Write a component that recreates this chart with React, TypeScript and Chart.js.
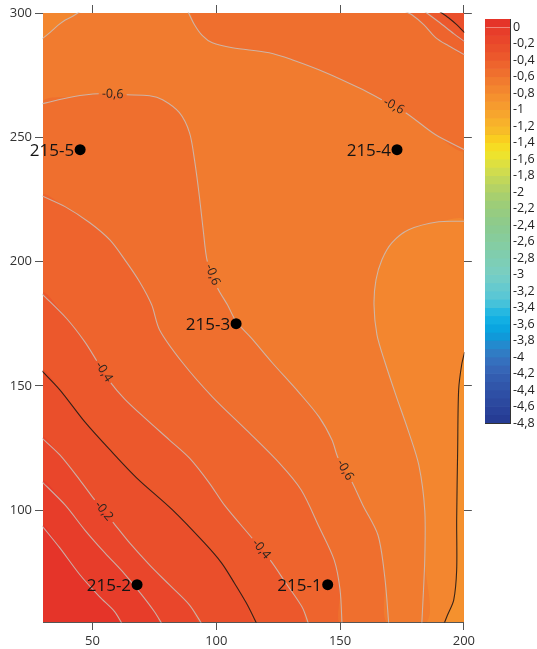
import React, { useEffect, useRef } from 'react';
import { Chart, registerables } from 'chart.js';

Chart.register(...registerables);
Chart.defaults.font.family = '"Open Sans", sans-serif';

type P = [number, number];

// ---------- axes ----------
const xMin = 30, xMax = 200, yMin = 55, yMax = 300;
const xTicks = [50, 100, 150, 200];
const yTicks = [100, 150, 200, 250, 300];

// ---------- wells ----------
const wellNames = ['215-1', '215-2', '215-3', '215-4', '215-5'];
const wellX = [145, 68, 108, 173, 45];
const wellY = [70, 70, 175, 245, 245];

// ---------- colour scale ----------
const scaleTop = 0.1;
const scaleBottom = -4.8;
const scaleStep = 0.1;
const scaleMajor = [-0.3, -0.8, -1.3, -1.8, -2.3, -2.8, -3.3, -3.8, -4.3];
const paletteStops: [number, number, number, number][] = [
  [0.05, 229, 52, 41],
  [-0.35, 236, 88, 44],
  [-0.65, 241, 123, 47],
  [-0.85, 245, 145, 46],
  [-1.05, 247, 165, 45],
  [-1.25, 248, 188, 40],
  [-1.35, 250, 205, 32],
  [-1.5, 244, 228, 36],
  [-1.7, 215, 222, 72],
  [-1.9, 186, 212, 96],
  [-2.1, 160, 205, 116],
  [-2.4, 140, 203, 142],
  [-2.7, 130, 205, 168],
  [-3.0, 120, 206, 196],
  [-3.3, 85, 198, 215],
  [-3.5, 22, 180, 228],
  [-3.7, 6, 160, 222],
  [-3.9, 45, 130, 200],
  [-4.1, 55, 106, 186],
  [-4.3, 50, 89, 173],
  [-4.5, 45, 76, 162],
  [-4.75, 38, 60, 148],
];

// ---------- contour lines (x, y) ----------
const c070TopLeft: P[] = [[29, 289.3], [30, 289.9], [33, 292.3], [36, 295], [39, 297.2], [42, 298.7], [45, 300.6]];
const c070Right: P[] = [[200.3, 216.2], [189.8, 216.0], [177.7, 212.8], [170.9, 207.5], [166.9, 200.7], [164.5, 192.6], [163.7, 182.6], [164.9, 170.5], [168.1, 159.6], [172.5, 146.4], [177.7, 131.5], [181.8, 118.2], [184.2, 100.1], [184.2, 80.0], [183.0, 53.8]];
const c080Right: P[] = [[200.3, 163.6], [199.1, 158.4], [197.9, 148.4], [197.5, 124.2], [197.1, 96.0], [197.1, 75.9], [195.9, 63.8], [193.4, 57.8], [191.8, 53.8]];
const c060Main: P[] = [[29.6, 263.5], [42.1, 266.3], [52.5, 267.5], [63.8, 267.1], [73.1, 266.7], [78.3, 265.1], [85.1, 259.9], [89.2, 251.8], [91.2, 240.9], [93.2, 226.0], [94.8, 211.9], [96.4, 200.0], [100.5, 189.4], [104.5, 182.6], [108.1, 175.8], [114.1, 169.3], [122.6, 159.3], [133.5, 147.2], [141.5, 137.5], [146.7, 128.3], [149.2, 121.0], [154.8, 111.3], [159.2, 102.0], [165.3, 90.0], [168.1, 72.7], [169.7, 53.8]];
const c060Top: P[] = [[88.4, 300.9], [91.2, 295.3], [94.4, 290.9], [98.4, 288.0], [106.5, 286.0], [121.4, 284.0], [130.6, 281.2], [144.3, 276.0], [157.6, 269.9], [166.9, 265.1], [176.5, 259.9], [188.6, 251.0], [200.3, 245.0]];
const c050Low: P[] = [[29.6, 226.4], [38.9, 222.1], [48.9, 215.6], [57.0, 208.7], [63.0, 200.8], [69.0, 191.9], [73.9, 182.6], [77.1, 172.5], [86.4, 159.3], [98.4, 145.6], [112.1, 132.3], [125.4, 119.0], [134.3, 108.1], [141.5, 93.3], [147.6, 80.0], [150.0, 67.9], [150.8, 53.8]];
const c050Top: P[] = [[175.7, 300.9], [179.0, 299.3], [183.8, 295.3], [188.6, 290.1], [193.8, 286.8], [200.3, 283.2]];
const c040Low: P[] = [[29.6, 187.0], [39.7, 176.9], [46.9, 167.7], [51.7, 160.1], [57.4, 151.2], [63.0, 144.7], [71.1, 137.1], [81.1, 128.2], [89.2, 120.9], [97.2, 110.9], [103.3, 102.0], [114.5, 88.7], [121.8, 79.9], [128.2, 70.5], [134.7, 60.9], [137.5, 53.6]];
const c040Top: P[] = [[183.8, 300.9], [189.8, 296.5], [195.9, 291.7], [200.3, 288.5]];
const c030Low: P[] = [[29.6, 156.0], [36.8, 148.4], [46.9, 135.5], [57.0, 124.3], [67.8, 113.0], [82.3, 100.1], [95.2, 86.8], [102.1, 78.8], [107.3, 70.7], [112.1, 62.7], [116.6, 53.8]];
const c030Top: P[] = [[189.8, 300.9], [193.8, 298.1], [197.1, 295.3], [200.3, 292.1]];
const c020Low: P[] = [[29.6, 129.0], [36.8, 122.2], [44.9, 112.1], [50.9, 104.1], [58.2, 95.2], [65.0, 86.8], [73.1, 77.9], [81.1, 69.9], [89.2, 61.8], [94.4, 53.8]];
const c010Low: P[] = [[29.6, 111.4], [38.9, 102.1], [46.9, 92.0], [55.0, 82.8], [63.0, 74.3], [69.9, 65.9], [75.1, 59.0], [78.3, 53.8]];
const c000Low: P[] = [[29.6, 93.7], [36.8, 84.8], [44.9, 74.0], [52.9, 65.1], [59.0, 59.1], [62.2, 53.8]];

type Kind = 'LL' | 'TR' | 'RB' | 'TL';
const contours: { level: number; pts: P[]; kind: Kind }[] = [
  { level: -0.7, pts: c070TopLeft, kind: 'TL' },
  { level: -0.7, pts: c070Right, kind: 'RB' },
  { level: -0.8, pts: c080Right, kind: 'RB' },
  { level: -0.6, pts: c060Main, kind: 'LL' },
  { level: -0.6, pts: c060Top, kind: 'TR' },
  { level: -0.5, pts: c050Low, kind: 'LL' },
  { level: -0.5, pts: c050Top, kind: 'TR' },
  { level: -0.4, pts: c040Low, kind: 'LL' },
  { level: -0.4, pts: c040Top, kind: 'TR' },
  { level: -0.3, pts: c030Low, kind: 'LL' },
  { level: -0.3, pts: c030Top, kind: 'TR' },
  { level: -0.2, pts: c020Low, kind: 'LL' },
  { level: -0.1, pts: c010Low, kind: 'LL' },
  { level: 0.0, pts: c000Low, kind: 'LL' },
];

const contourLabels = [
  { text: '-0,6', x: 58.2, y: 267.3 },
  { text: '-0,6', x: 171.7, y: 262.5 },
  { text: '-0,6', x: 98.4, y: 194.7 },
  { text: '-0,6', x: 152.0, y: 116.1 },
  { text: '-0,4', x: 54.6, y: 155.6 },
  { text: '-0,4', x: 118.2, y: 84.3 },
  { text: '-0,2', x: 54.6, y: 99.6 },
];

// ---------- helpers ----------
function colorAt(v: number): string {
  const s = paletteStops;
  if (v >= s[0][0]) return `rgb(${s[0][1]},${s[0][2]},${s[0][3]})`;
  for (let i = 0; i < s.length - 1; i++) {
    const a = s[i], b = s[i + 1];
    if (v <= a[0] && v >= b[0]) {
      const t = (a[0] - v) / (a[0] - b[0]);
      const r = Math.round(a[1] + (b[1] - a[1]) * t);
      const g = Math.round(a[2] + (b[2] - a[2]) * t);
      const bl = Math.round(a[3] + (b[3] - a[3]) * t);
      return `rgb(${r},${g},${bl})`;
    }
  }
  const l = s[s.length - 1];
  return `rgb(${l[1]},${l[2]},${l[3]})`;
}
const near = (a: number, b: number) => Math.abs(a - b) < 1e-6;
const isMajor = (v: number) => scaleMajor.some((m) => near(m, v));

const FAR_L = 25, FAR_R = 205, FAR_B = 50, FAR_T = 305;
function polygonFor(kind: Kind, pts: P[]): P[] {
  if (kind === 'LL') return [[FAR_L, FAR_B], ...pts, [FAR_R, FAR_B]];
  if (kind === 'TR') return [[FAR_L, FAR_T], ...pts, [FAR_R, FAR_T]];
  if (kind === 'RB') return [[FAR_L, FAR_B], ...[...pts].reverse(), [FAR_R, FAR_B]];
  return [[FAR_L, FAR_T + 5], ...pts, [FAR_R, FAR_T]];
}
const toXY = (p: P[]) => p.map(([x, y]) => ({ x, y }));

function hideNearLabel(ctx: any) {
  const ch = ctx.chart;
  if (!ch || !ch.scales || !ch.scales.x) return undefined;
  const xs = ch.scales.x, ys = ch.scales.y;
  const mx = (ctx.p0.x + ctx.p1.x) / 2, my = (ctx.p0.y + ctx.p1.y) / 2;
  for (const l of contourLabels) {
    const lx = xs.getPixelForValue(l.x), ly = ys.getPixelForValue(l.y);
    if (Math.hypot(mx - lx, my - ly) < 9) return 'rgba(0,0,0,0)';
  }
  return undefined;
}

const labelPlugin = {
  id: 'mapLabels',
  afterDatasetsDraw(chart: any) {
    const { ctx } = chart;
    const xs = chart.scales.x, ys = chart.scales.y;
    const area = chart.chartArea;
    ctx.save();
    ctx.beginPath();
    ctx.rect(area.left, area.top, area.right - area.left, area.bottom - area.top);
    ctx.clip();
    // contour labels
    ctx.font = '12.5px "Open Sans", sans-serif';
    ctx.fillStyle = '#2b2420';
    ctx.textAlign = 'center';
    ctx.textBaseline = 'middle';
    for (const l of contourLabels) {
      const lx = xs.getPixelForValue(l.x), ly = ys.getPixelForValue(l.y);
      let best: any = null, bd = Infinity;
      chart.data.datasets.forEach((ds: any, i: number) => {
        if (!ds.isContour) return;
        const pts = chart.getDatasetMeta(i).data;
        for (let k = 0; k < pts.length - 1; k++) {
          const mx = (pts[k].x + pts[k + 1].x) / 2, my = (pts[k].y + pts[k + 1].y) / 2;
          const d = Math.hypot(mx - lx, my - ly);
          if (d < bd) { bd = d; best = [pts[k], pts[k + 1]]; }
        }
      });
      if (!best) continue;
      let ang = Math.atan2(best[1].y - best[0].y, best[1].x - best[0].x);
      if (ang > Math.PI / 2) ang -= Math.PI;
      if (ang < -Math.PI / 2) ang += Math.PI;
      ctx.save();
      ctx.translate((best[0].x + best[1].x) / 2, (best[0].y + best[1].y) / 2);
      ctx.rotate(ang);
      ctx.fillText(l.text, 0, 0);
      ctx.restore();
    }
    ctx.restore();
    // well labels (not clipped: they may overhang the axis)
    ctx.save();
    ctx.font = '17px "Open Sans", sans-serif';
    ctx.fillStyle = '#141414';
    ctx.textAlign = 'right';
    ctx.textBaseline = 'middle';
    chart.data.datasets.forEach((ds: any, i: number) => {
      if (!ds.isWells) return;
      chart.getDatasetMeta(i).data.forEach((el: any, k: number) => {
        ctx.fillText(wellNames[k], el.x - 6, el.y + 1);
      });
    });
    ctx.restore();
  },
};

function buildMainConfig(): any {
  const datasets: any[] = [];
  // base band
  datasets.push({
    type: 'line',
    data: toXY([[FAR_L, FAR_B], [FAR_L, FAR_T], [FAR_R, FAR_T], [FAR_R, FAR_B]]),
    fill: 'shape', backgroundColor: colorAt(-0.65), borderWidth: 0, borderColor: 'rgba(0,0,0,0)', pointRadius: 0, tension: 0,
  });
  const lowSide = contours.filter((c) => c.kind === 'RB' || c.kind === 'TL').sort((a, b) => b.level - a.level);
  const highSide = contours.filter((c) => c.kind === 'LL' || c.kind === 'TR').sort((a, b) => a.level - b.level);
  for (const c of lowSide) {
    datasets.push({
      type: 'line', data: toXY(polygonFor(c.kind, c.pts)), fill: 'shape',
      backgroundColor: colorAt(c.level - 0.05), borderWidth: 0, borderColor: 'rgba(0,0,0,0)', pointRadius: 0, tension: 0.3,
    });
  }
  for (const c of highSide) {
    datasets.push({
      type: 'line', data: toXY(polygonFor(c.kind, c.pts)), fill: 'shape',
      backgroundColor: colorAt(c.level + 0.05), borderWidth: 0, borderColor: 'rgba(0,0,0,0)', pointRadius: 0, tension: 0.3,
    });
  }
  for (const c of contours) {
    const major = isMajor(c.level);
    datasets.push({
      type: 'line', isContour: true, data: toXY(c.pts), fill: false,
      borderColor: major ? 'rgba(45,30,22,0.95)' : 'rgba(200,190,186,0.85)',
      borderWidth: 1.1, pointRadius: 0, tension: 0.3,
      segment: { borderColor: hideNearLabel },
    });
  }
  datasets.push({
    type: 'scatter', isWells: true,
    data: wellX.map((x, i) => ({ x, y: wellY[i] })),
    pointRadius: 5.5, pointBackgroundColor: '#000', pointBorderWidth: 0, showLine: false,
  });
  datasets.forEach((d, i) => { d.order = datasets.length - i; });

  const axisGrid = { drawOnChartArea: false, drawTicks: true, tickLength: 8, color: '#555', tickColor: '#555' };
  const axisBorder = { color: '#555', width: 1 };
  const tickFont = { size: 13 };
  const setX = (s: any) => { s.min = xMin; s.max = xMax; };
  const setY = (s: any) => { s.min = yMin; s.max = yMax; };
  return {
    type: 'line',
    data: { datasets },
    options: {
      responsive: false, animation: false, events: [],
      layout: { padding: 0 },
      plugins: { legend: { display: false }, tooltip: { enabled: false } },
      scales: {
        x: {
          type: 'linear', position: 'bottom', bounds: 'data', afterDataLimits: setX,
          afterBuildTicks: (s: any) => { s.ticks = xTicks.map((v) => ({ value: v })); },
          ticks: { color: '#333', font: tickFont, padding: 3 },
          grid: axisGrid, border: axisBorder,
          afterFit: (s: any) => { s.height = 27; },
        },
        x2: {
          type: 'linear', position: 'top', bounds: 'data', afterDataLimits: setX,
          afterBuildTicks: (s: any) => { s.ticks = xTicks.map((v) => ({ value: v })); },
          ticks: { callback: () => '' },
          grid: axisGrid, border: axisBorder,
          afterFit: (s: any) => { s.height = 13; },
        },
        y: {
          type: 'linear', position: 'left', bounds: 'data', afterDataLimits: setY,
          afterBuildTicks: (s: any) => { s.ticks = yTicks.map((v) => ({ value: v })); },
          ticks: { color: '#333', font: tickFont, padding: 3 },
          grid: axisGrid, border: axisBorder,
          afterFit: (s: any) => { s.width = 43; },
        },
        y2: {
          type: 'linear', position: 'right', bounds: 'data', afterDataLimits: setY,
          afterBuildTicks: (s: any) => { s.ticks = yTicks.map((v) => ({ value: v })); },
          ticks: { callback: () => '' },
          grid: axisGrid, border: axisBorder,
          afterFit: (s: any) => { s.width = 13; },
        },
      },
    },
    plugins: [labelPlugin],
  };
}

function buildBarConfig(): any {
  const nBands = Math.round((scaleTop - scaleBottom) / scaleStep);
  const bands: P[] = [];
  for (let i = 0; i < nBands; i++) {
    const hi = Math.round((scaleTop - i * scaleStep) * 10) / 10;
    const lo = Math.round((scaleTop - (i + 1) * scaleStep) * 10) / 10;
    bands.push([lo, hi]);
  }
  const bounds = [scaleTop, ...bands.map((b) => b[0])];
  return {
    type: 'bar',
    data: {
      labels: [''],
      datasets: bands.map(([lo, hi]) => ({
        data: [[lo, hi]], backgroundColor: colorAt((lo + hi) / 2), borderWidth: 0,
        barPercentage: 1, categoryPercentage: 1,
      })),
    },
    options: {
      responsive: false, animation: false, events: [],
      layout: { padding: { left: 7, top: 19, right: 0, bottom: 226 } },
      plugins: { legend: { display: false }, tooltip: { enabled: false } },
      scales: {
        x: {
          stacked: true, z: 1,
          ticks: { display: false },
          grid: { color: '#333', drawTicks: false, offset: true },
          border: { color: '#333' },
          afterFit: (s: any) => { s.height = 0; },
        },
        y: {
          type: 'linear', position: 'right', min: scaleBottom, max: scaleTop, z: 1,
          afterBuildTicks: (s: any) => { s.ticks = bounds.map((v) => ({ value: v })); },
          ticks: {
            autoSkip: false, padding: 3, color: '#222', font: { size: 12.5 },
            callback: (v: number) => {
              const t = Math.round(v * 10);
              if (t > 0 || t % 2 !== 0) return '';
              return String(t / 10 === 0 ? 0 : t / 10).replace('.', ',');
            },
          },
          grid: {
            drawTicks: false, lineWidth: 1,
            color: (c: any) => {
              const v = c.tick ? c.tick.value : 0;
              if (near(v, scaleTop) || near(v, scaleBottom)) return '#333';
              if (isMajor(v)) return '#1e1e1e';
              return 'rgba(255,255,255,0.42)';
            },
          },
          border: { color: '#333' },
          afterFit: (s: any) => { s.width = 27; },
        },
      },
    },
  };
}

export default function App() {
  const mainRef = useRef<HTMLCanvasElement>(null);
  const barRef = useRef<HTMLCanvasElement>(null);
  useEffect(() => {
    const main = new Chart(mainRef.current as HTMLCanvasElement, buildMainConfig());
    const bar = new Chart(barRef.current as HTMLCanvasElement, buildBarConfig());
    return () => { main.destroy(); bar.destroy(); };
  }, []);
  return (
    <div style={{ position: 'fixed', left: 0, top: 0, width: 537, height: 649, background: '#fff', overflow: 'hidden' }}>
      <canvas ref={mainRef} width={478} height={649} style={{ position: 'absolute', left: 0, top: 0 }} />
      <canvas ref={barRef} width={59} height={649} style={{ position: 'absolute', left: 478, top: 0 }} />
    </div>
  );
}
